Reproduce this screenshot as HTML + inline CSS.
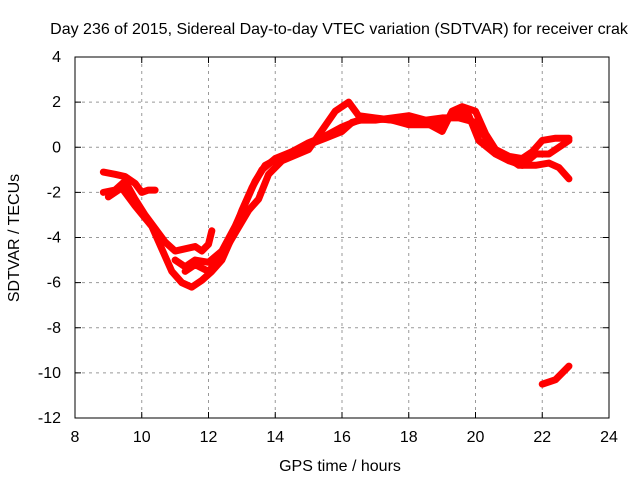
<!DOCTYPE html>
<html><head><meta charset="utf-8"><style>
body{margin:0;background:#fff}
svg{display:block;font-family:"Liberation Sans",sans-serif;font-size:16px}
</style></head><body>
<svg id="chart" width="640" height="480">
<text x="339" y="34" text-anchor="middle">Day 236 of 2015, Sidereal Day-to-day VTEC variation (SDTVAR) for receiver crak</text>
<g id="grid"></g><g id="series"></g><g id="axes"></g>
<text x="340" y="471" text-anchor="middle">GPS time / hours</text>
<text transform="translate(19,238) rotate(-90)" text-anchor="middle">SDTVAR / TECUs</text>
</svg>
<script>
const xTicks=[8,10,12,14,16,18,20,22,24];
const yTicks=[4,2,0,-2,-4,-6,-8,-10,-12];
const trackAx=[8.85,9.2,9.5,9.8,10.0,10.2,10.4];
const trackAy=[-1.1,-1.2,-1.3,-1.6,-2.0,-1.9,-1.9];
const trackBx=[8.85,9.2,9.5,9.8,10.1,10.4,10.7,11.0,11.3,11.6,11.8,12.0,12.1];
const trackBy=[-2.0,-1.9,-1.5,-2.3,-3.0,-3.6,-4.2,-4.6,-4.5,-4.4,-4.6,-4.3,-3.7];
const trackCx=[9.0,9.4,9.8,10.3,10.6,10.9,11.2,11.5,11.8,12.1,12.4,12.7,13.0,13.3,13.6,14.0,14.5,15.0,15.5,16.0,16.5,17,17.5,18,18.5,19,19.5,20,20.5,21.0,21.3,21.8,22.2,22.5,22.8];
const trackCy=[-2.2,-1.8,-2.6,-3.5,-4.5,-5.5,-6.0,-6.2,-5.9,-5.5,-5.0,-4.0,-2.8,-1.8,-1.0,-0.5,-0.2,0.2,0.5,0.9,1.2,1.2,1.3,1.4,1.2,1.3,1.3,1.1,0.0,-0.5,-0.8,-0.8,-0.7,-0.9,-1.4];
const trackDx=[11.0,11.3,11.6,12.0,12.4,12.8,13.1,13.4,13.7,14.2,14.8,15.5,16.0,16.3,16.8,17.5,18,18.5,19,19.3,19.6,20.0,20.3,20.6,21.0,21.4,21.7,22.0,22.4,22.8];
const trackDy=[-5.0,-5.3,-5.0,-5.1,-4.6,-3.5,-2.5,-1.5,-0.8,-0.4,0.0,0.4,0.7,1.1,1.3,1.2,1.2,1.1,0.7,1.6,1.8,1.6,0.6,-0.1,-0.4,-0.5,-0.2,0.3,0.4,0.4];
const trackEx=[11.3,11.6,12.0,12.4,12.8,13.2,13.5,13.8,14.2,15,15.8,16.2,16.5,17,17.5,18,18.5,19.0,19.4,19.8,20.1,20.6,21.0,21.4,21.8,22.2,22.8];
const trackEy=[-5.5,-5.2,-5.5,-4.8,-3.8,-2.8,-2.3,-1.2,-0.6,-0.1,1.6,2.0,1.4,1.3,1.2,1.0,1.0,1.0,1.6,1.4,0.3,-0.3,-0.6,-0.8,-0.3,-0.3,0.3];
const trackFx=[22.0,22.4,22.8];
const trackFy=[-10.5,-10.3,-9.7];
const L=75,R=609,T=57,B=418;
const xs=v=>L+(v-8)/16*(R-L), ys=v=>T+(4-v)/16*(B-T);
const NS="http://www.w3.org/2000/svg";
function mk(t,p,a){const e=document.createElementNS(NS,t);for(const k in a)e.setAttribute(k,a[k]);p.appendChild(e);return e;}
const grid=document.getElementById('grid'),axes=document.getElementById('axes'),ser=document.getElementById('series');
xTicks.forEach(v=>{const x=xs(v);
 if(v>8&&v<24){const g=mk('line',grid,{x1:x,x2:x,y1:T,y2:B,stroke:'#999','stroke-dasharray':'3,4'});
 }
 const t=mk('text',axes,{x:x,y:B+24,'text-anchor':'middle'});t.textContent=v;
 
 mk('line',axes,{x1:x,x2:x,y1:B,y2:B-6,stroke:'#000'});mk('line',axes,{x1:x,x2:x,y1:T,y2:T+6,stroke:'#000'});});
yTicks.forEach(v=>{const y=ys(v);
 if(v<4&&v>-12){const g=mk('line',grid,{x1:L,x2:R,y1:y,y2:y,stroke:'#999','stroke-dasharray':'3,4'});
 }
 const t=mk('text',axes,{x:L-14,y:y+5,'text-anchor':'end'});t.textContent=v;
 
 mk('line',axes,{x1:L,x2:L+6,y1:y,y2:y,stroke:'#000'});mk('line',axes,{x1:R,x2:R-6,y1:y,y2:y,stroke:'#000'});});
const frame=mk('rect',axes,{x:L,y:T,width:R-L,height:B-T,fill:'none',stroke:'#000'});

[[trackAx,trackAy],[trackBx,trackBy],[trackCx,trackCy],[trackDx,trackDy],[trackEx,trackEy],[trackFx,trackFy]].forEach((tr,i)=>{
 const pts=tr[0].map((x,j)=>xs(x)+','+ys(tr[1][j])).join(' ');
 const p=mk('polyline',ser,{points:pts,fill:'none',stroke:'#f00','stroke-width':7,'stroke-linejoin':'round','stroke-linecap':'round'});
 
 });
</script>
</body></html>
